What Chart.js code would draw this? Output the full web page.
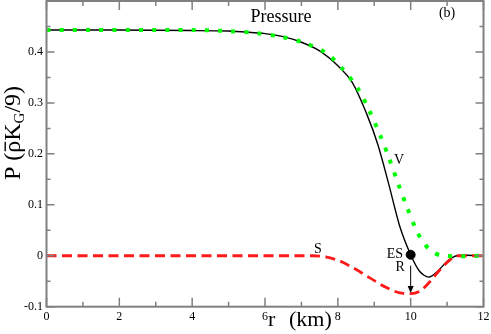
<!DOCTYPE html>
<html>
<head>
<meta charset="utf-8">
<script src="https://cdn.jsdelivr.net/npm/chart.js@4"></script>
<style>
  html, body { margin: 0; padding: 0; background: #fff; }
  canvas { display: block; }
</style>
</head>
<body>
<canvas id="chart" width="491" height="334"></canvas>
<script>
// total pressure (black solid)
const rTotal = [0, 2, 4, 5, 5.5, 6, 6.5, 7, 7.5, 8, 8.4, 8.8, 9.1, 9.4, 9.7, 10, 10.25, 10.5, 10.75, 11, 11.27, 12];
const pTotal = [0.443, 0.443, 0.442, 0.441, 0.439, 0.436, 0.430, 0.419, 0.402, 0.373, 0.340, 0.277, 0.218, 0.140, 0.058, 0.002, -0.031, -0.042, -0.030, -0.011, 0, 0];

// volume part V (green dotted)
const rVolume = [0, 4, 5, 5.76, 6.43, 7.07, 7.66, 8.14, 8.56, 8.87, 9.16, 9.41, 9.66, 9.9, 10.17, 10.34, 10.55, 10.87, 12];
const pVolume = [0.443, 0.443, 0.441, 0.437, 0.430, 0.418, 0.399, 0.366, 0.327, 0.284, 0.237, 0.191, 0.141, 0.095, 0.048, 0.028, 0.010, 0, 0];

// surface part S (red dashed)
const rSurface = [0, 7.3, 7.97, 8.43, 8.89, 9.35, 9.71, 10.0, 10.26, 10.54, 10.81, 11.08, 11.27, 12];
const pSurface = [0, 0, -0.008, -0.024, -0.044, -0.063, -0.073, -0.0745, -0.069, -0.050, -0.027, -0.008, 0, 0];

// equivalent sharp surface point
const rES = [10];
const pES = [0.002];

const xTicks = [0, 2, 4, 6, 8, 10, 12];
const yTicks = [-0.1, 0, 0.1, 0.2, 0.3, 0.4];

function pts(xs, ys) {
  return xs.map((x, i) => ({ x: x, y: ys[i] }));
}

const serif = '"Liberation Serif", "DejaVu Serif", serif';
const axisGrey = '#808080';

// labels placed in data coordinates
const notes = [
  { text: 'Pressure', x: 6.44, y: 0.469, size: 18, align: 'center' },
  { text: '(b)', x: 11.0, y: 0.476, size: 14, align: 'center' },
  { text: 'V', x: 9.68, y: 0.188, size: 14, align: 'center' },
  { text: 'S', x: 7.45, y: 0.012, size: 14, align: 'center' },
  { text: 'ES', x: 9.79, y: 0.003, size: 14, align: 'right' },
  { text: 'R', x: 9.71, y: -0.0235, size: 14, align: 'center' }
];

const framePlugin = {
  id: 'frame',
  afterDraw(chart) {
    const ctx = chart.ctx;
    const a = chart.chartArea;
    const xs = chart.scales.x, ys = chart.scales.y;
    ctx.save();
    ctx.strokeStyle = axisGrey;
    ctx.lineWidth = 2;
    ctx.strokeRect(a.left, a.top, a.right - a.left, a.bottom - a.top);

    // inward ticks on all four sides
    ctx.lineWidth = 1.5;
    ctx.beginPath();
    for (let v = 0; v <= 12; v++) {
      const px = xs.getPixelForValue(v);
      const len = v % 2 === 0 ? 9 : 5;
      ctx.moveTo(px, a.bottom); ctx.lineTo(px, a.bottom - len);
      ctx.moveTo(px, a.top); ctx.lineTo(px, a.top + len);
    }
    for (let k = -2; k <= 10; k++) {
      const py = ys.getPixelForValue(k * 0.05);
      const len = k % 2 === 0 ? 8 : 4;
      ctx.moveTo(a.left, py); ctx.lineTo(a.left + len, py);
      ctx.moveTo(a.right, py); ctx.lineTo(a.right - len, py);
    }
    ctx.stroke();

    // arrow from ES down to the surface minimum
    const ax = xs.getPixelForValue(10);
    const ay0 = ys.getPixelForValue(-0.0196);
    const ay1 = ys.getPixelForValue(-0.073);
    ctx.strokeStyle = '#000';
    ctx.fillStyle = '#000';
    ctx.lineWidth = 1;
    ctx.beginPath();
    ctx.moveTo(ax, ay0); ctx.lineTo(ax, ay1 - 4);
    ctx.stroke();
    ctx.beginPath();
    ctx.moveTo(ax, ay1); ctx.lineTo(ax - 3, ay1 - 7); ctx.lineTo(ax + 3, ay1 - 7);
    ctx.closePath();
    ctx.fill();

    // text notes
    ctx.textBaseline = 'middle';
    notes.forEach(n => {
      ctx.font = n.size + 'px ' + serif;
      ctx.textAlign = n.align;
      ctx.fillText(n.text, xs.getPixelForValue(n.x), ys.getPixelForValue(n.y));
    });

    // x axis title
    ctx.font = '22px ' + serif;
    ctx.textAlign = 'left';
    ctx.textBaseline = 'alphabetic';
    ctx.fillText('r', 268, 326);
    ctx.fillText('(km)', 289, 326);

    // y axis title, rotated: P (rho-bar K_G / 9)
    ctx.translate(20, 133);
    ctx.rotate(-Math.PI / 2);
    ctx.textAlign = 'left';
    const parts = [
      { t: 'P (', size: 24, dy: 0 },
      { t: '\u03C1', size: 24, dy: 0, bar: true },
      { t: 'K', size: 24, dy: 0 },
      { t: 'G', size: 15, dy: 4 },
      { t: '/9)', size: 24, dy: 0 }
    ];
    let total = 0;
    parts.forEach(p => { ctx.font = p.size + 'px ' + serif; total += ctx.measureText(p.t).width; });
    let cx = -total / 2;
    parts.forEach(p => {
      ctx.font = p.size + 'px ' + serif;
      const w = ctx.measureText(p.t).width;
      ctx.fillText(p.t, cx, p.dy);
      if (p.bar) {
        ctx.fillRect(cx + 1.5, -15.5, w - 2.5, 1.4);
      }
      cx += w;
    });
    ctx.restore();
  }
};

new Chart(document.getElementById('chart'), {
  type: 'scatter',
  data: {
    datasets: [
      {
        label: 'V',
        data: pts(rVolume, pVolume),
        showLine: true,
        borderColor: '#00ff00',
        borderWidth: 4,
        borderDash: [4, 9.2],
        borderCapStyle: 'butt',
        pointRadius: 0,
        tension: 0.3
      },
      {
        label: 'S',
        data: pts(rSurface, pSurface),
        showLine: true,
        borderColor: '#ff1a1a',
        borderWidth: 2.8,
        borderDash: [10, 5.5],
        pointRadius: 0,
        cubicInterpolationMode: 'monotone'
      },
      {
        label: 'P',
        data: pts(rTotal, pTotal),
        showLine: true,
        borderColor: '#000',
        borderWidth: 1.4,
        pointRadius: 0,
        tension: 0.3
      },
      {
        label: 'ES',
        data: pts(rES, pES),
        showLine: false,
        pointRadius: 4.5,
        pointBackgroundColor: '#000',
        pointBorderColor: '#000'
      }
    ]
  },
  options: {
    responsive: false,
    animation: false,
    layout: { autoPadding: false, padding: { top: 1, right: 7.5, left: 0, bottom: 0 } },
    plugins: {
      legend: { display: false },
      tooltip: { enabled: false }
    },
    scales: {
      x: {
        type: 'linear',
        min: 0,
        max: 12,
        afterBuildTicks: s => { s.ticks = xTicks.map(v => ({ value: v })); },
        afterFit: s => { s.height = 27.3; s.paddingLeft = 0; s.paddingRight = 0; },
        grid: { display: false, drawTicks: false },
        border: { display: false },
        ticks: {
          padding: 3,
          color: '#000',
          font: { family: serif, size: 12 },
          callback: v => String(v)
        }
      },
      y: {
        min: -0.1,
        max: 0.5,
        afterBuildTicks: s => { s.ticks = yTicks.map(v => ({ value: v })); },
        afterFit: s => { s.width = 46.5; s.paddingTop = 0; s.paddingBottom = 0; },
        grid: { display: false, drawTicks: false },
        border: { display: false },
        ticks: {
          padding: 3.5,
          color: '#000',
          font: { family: serif, size: 12 },
          callback: v => String(Math.round(v * 10) / 10)
        }
      }
    }
  },
  plugins: [framePlugin]
});
</script>
</body>
</html>
